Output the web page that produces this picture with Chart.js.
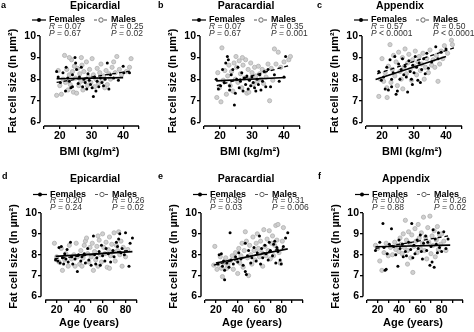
<!DOCTYPE html>
<html>
<head>
<meta charset="utf-8">
<script src="https://cdn.jsdelivr.net/npm/chart.js@4.4.1/dist/chart.umd.min.js"></script>
<style>
  html, body { margin: 0; padding: 0; background: #fff; overflow: hidden; }
  body { width: 474px; height: 332px; position: relative; }
  canvas { position: absolute; }
</style>
</head>
<body>
<canvas id="pa"></canvas>
<canvas id="pb"></canvas>
<canvas id="pc"></canvas>
<canvas id="pd"></canvas>
<canvas id="pe"></canvas>
<canvas id="pf"></canvas>
<script>
const FONT = '"Liberation Sans", Arial, sans-serif';

// ticks
const yTicks = [6, 7, 8, 9, 10];
const bmiTicks = [15, 20, 25, 30, 35, 40, 45];
const bmiLabels = [20, 30, 40];
const ageTicksShort = [10, 20, 30, 40, 50, 60, 70, 80, 90];
const ageTicks = [10, 20, 30, 40, 50, 60, 70, 80, 90, 100];
const ageLabels = [20, 40, 60, 80];

const depots = ['Epicardial', 'Paracardial', 'Appendix'];
const letters = ['a', 'b', 'c', 'd', 'e', 'f'];

// correlation stats per panel (a..f)
const femaleR = ['0.07', '0.07', '0.57', '0.20', '0.35', '0.03'];
const femaleP = ['= 0.67', '= 0.67', '< 0.0001', '= 0.24', '= 0.03', '= 0.88'];
const maleR = ['0.25', '0.35', '0.50', '0.26', '0.31', '0.26'];
const maleP = ['= 0.02', '= 0.001', '< 0.0001', '= 0.02', '= 0.006', '= 0.02'];

// [BMI or age, ln fat cell size]
const epiBmiFemales = [[19.0,8.35],[19.5,8.1],[20.2,7.85],[21.0,8.3],[21.8,7.45],[22.5,8.05],[23.0,7.9],[23.5,7.6],[24.0,8.2],[24.8,9.0],[25.0,8.75],[25.3,8.45],[25.8,7.8],[26.2,8.1],[26.8,8.55],[27.2,7.65],[27.6,8.0],[28.0,7.85],[28.5,7.55],[28.9,8.25],[29.3,7.95],[29.7,7.75],[30.2,7.6],[30.6,7.2],[31.0,8.1],[31.4,7.45],[31.8,7.9],[32.3,7.65],[32.8,8.05],[33.3,7.85],[33.8,7.7],[34.3,8.0],[35.0,8.75],[35.5,7.55],[36.0,8.2],[37.0,8.05],[38.5,7.95],[40.0,8.6],[40.2,8.3],[42.0,8.3],[24.0,7.65],[22.0,8.55]];
const epiBmiMales = [[19.0,7.25],[19.5,8.4],[20.0,7.7],[20.5,7.3],[21.0,8.0],[21.5,9.1],[21.8,7.85],[22.2,8.45],[22.6,7.5],[23.0,8.2],[23.3,7.75],[23.7,8.9],[24.0,8.35],[24.3,7.4],[24.6,8.6],[25.0,8.05],[25.3,7.35],[25.6,8.5],[26.0,7.7],[26.3,8.25],[26.6,7.9],[27.0,8.65],[27.3,7.5],[27.6,8.35],[28.0,7.95],[28.4,8.8],[28.7,7.7],[29.0,8.1],[29.4,8.45],[29.8,7.85],[30.2,8.95],[30.6,8.2],[31.0,7.65],[31.4,8.0],[31.8,8.5],[32.2,7.8],[32.6,8.3],[33.0,8.7],[33.4,7.95],[33.8,8.15],[34.2,7.6],[34.6,8.4],[35.0,7.75],[35.5,8.25],[36.0,8.0],[36.5,8.55],[37.0,8.8],[37.5,8.3],[38.0,9.05],[38.8,8.45],[39.5,8.2],[42.0,8.55],[42.5,8.95],[41.0,8.35],[26.8,9.0],[23.0,9.0]];
const paraBmiFemales = [[18.8,8.0],[19.5,7.55],[20.2,7.7],[20.8,8.45],[21.3,7.85],[21.8,8.75],[22.3,9.05],[22.6,8.9],[23.0,7.5],[23.5,8.2],[24.0,8.45],[24.5,6.8],[24.8,7.35],[25.2,8.0],[25.6,8.55],[26.0,7.6],[26.4,7.9],[26.8,8.3],[27.2,7.45],[27.6,8.05],[28.0,7.75],[28.4,8.15],[28.8,7.55],[29.2,7.95],[29.6,7.7],[30.0,8.1],[30.4,7.85],[30.8,7.6],[31.2,7.45],[31.6,8.0],[32.0,7.75],[32.4,8.2],[32.8,7.5],[33.3,7.9],[33.8,8.35],[34.3,7.65],[35.0,8.45],[35.8,7.65],[37.0,8.2],[38.5,7.9],[40.5,9.05],[40.0,8.1],[23.0,7.7]];
const paraBmiMales = [[19.0,7.15],[19.3,8.3],[19.8,7.6],[20.3,6.95],[20.6,9.45],[21.0,7.95],[21.5,8.4],[22.0,7.3],[22.4,8.15],[22.8,8.65],[23.2,7.7],[23.6,8.35],[24.0,7.45],[24.4,8.75],[24.8,8.0],[25.2,8.55],[25.6,7.85],[26.0,8.85],[26.4,8.25],[26.8,7.6],[27.2,8.65],[27.6,8.05],[28.0,8.9],[28.4,7.35],[28.8,8.45],[29.2,8.0],[29.6,8.75],[30.0,8.3],[30.4,7.75],[30.8,8.55],[31.2,8.15],[31.6,7.9],[32.0,8.6],[32.4,8.25],[32.8,8.0],[33.2,8.45],[33.6,7.8],[34.0,8.35],[34.4,8.1],[35.0,8.7],[35.5,7.0],[36.0,8.5],[36.5,7.95],[37.0,9.4],[37.5,8.7],[38.2,9.25],[39.0,8.55],[40.0,8.8],[41.5,8.9],[42.0,9.05],[27.0,9.0],[29.0,7.4],[25.0,9.05]];
const appBmiFemales = [[19.0,8.35],[19.8,7.95],[20.5,8.1],[21.0,7.55],[21.5,8.55],[22.0,7.5],[22.5,8.9],[23.0,7.65],[23.5,8.3],[24.0,9.05],[24.4,7.3],[24.8,7.45],[25.2,8.7],[25.6,8.0],[26.0,8.45],[26.4,8.95],[26.8,8.2],[27.2,8.6],[27.6,8.1],[28.0,7.4],[28.4,8.85],[28.8,8.35],[29.2,8.0],[29.6,8.65],[30.0,8.3],[30.4,9.05],[30.8,8.55],[31.2,7.95],[31.6,8.75],[32.0,7.85],[32.4,8.45],[33.0,8.95],[33.5,8.25],[34.0,9.2],[34.5,8.5],[35.5,8.8],[36.8,9.5],[37.5,8.95],[38.5,9.25],[40.0,9.4],[23.0,8.0],[29.5,7.75]];
const appBmiMales = [[19.0,7.2],[19.5,8.0],[20.0,8.95],[20.5,7.9],[21.0,8.3],[21.6,7.15],[22.0,8.6],[22.5,9.6],[22.8,7.85],[23.2,8.45],[23.6,9.1],[24.0,8.15],[24.4,8.8],[24.8,7.7],[25.2,9.25],[25.6,8.35],[26.0,8.0],[26.4,9.0],[26.8,8.55],[27.2,9.4],[27.6,8.25],[28.0,8.75],[28.4,9.15],[28.8,8.45],[29.2,7.95],[29.6,8.9],[30.0,8.6],[30.4,9.3],[30.8,8.2],[31.2,8.8],[31.6,9.05],[32.0,8.4],[32.4,8.7],[32.8,9.2],[33.2,8.0],[33.6,8.55],[34.0,8.95],[34.5,8.3],[35.0,9.35],[35.5,8.65],[36.0,8.9],[36.5,8.55],[37.0,9.1],[37.5,7.9],[38.0,8.7],[38.5,9.3],[39.0,8.95],[39.5,9.55],[40.5,9.2],[41.7,9.8],[42.0,9.6],[21.5,7.6],[26.5,7.55]];
const epiAgeFemales = [[19,7.75],[21,7.7],[22,8.35],[23,7.6],[24,8.4],[25,7.85],[26,7.55],[27,8.05],[28,7.8],[29,8.25],[30,7.65],[32,8.6],[33,7.9],[34,7.55],[36,7.8],[38,7.2],[39,8.0],[41,7.7],[42,7.9],[44,8.05],[45,7.6],[47,8.3],[48,7.75],[50,7.5],[52,8.9],[53,8.0],[54,7.55],[55,7.85],[57,8.15],[58,7.5],[59,8.45],[60,7.95],[62,7.7],[63,8.3],[65,8.05],[67,7.65],[69,8.2],[70,7.9],[72,8.6],[73,8.4],[74,8.75],[75,9.0],[76,8.1],[77,8.3],[79,8.0],[80,9.05],[83,7.45],[84,8.55],[86,8.8]];
const epiAgeMales = [[18,8.55],[20,7.9],[22,7.65],[24,8.3],[25,7.25],[27,7.75],[28,8.05],[30,7.45],[31,8.45],[33,7.8],[35,8.0],[36,7.45],[37,8.55],[38,7.9],[40,7.55],[41,8.2],[42,7.45],[43,7.85],[44,8.45],[45,8.65],[46,8.8],[47,8.05],[48,7.65],[49,8.35],[50,7.9],[51,8.55],[52,7.25],[53,8.15],[54,7.75],[55,8.4],[56,7.45],[57,8.7],[58,8.0],[59,7.65],[60,9.0],[61,8.35],[62,8.05],[63,8.6],[64,7.4],[65,8.25],[66,8.85],[67,7.95],[68,8.5],[69,8.15],[70,9.05],[71,7.7],[72,8.45],[73,8.2],[74,9.1],[75,8.0],[76,8.65],[77,7.45],[78,8.35],[80,7.9],[82,8.25],[66,7.35],[56,8.9]];
const paraAgeFemales = [[22,7.55],[23,8.0],[25,8.05],[26,7.45],[27,7.7],[28,6.8],[28,7.25],[30,7.6],[32,7.4],[33,9.05],[34,7.75],[36,7.55],[38,7.9],[40,7.65],[41,8.1],[43,7.8],[45,7.5],[47,7.2],[47,8.55],[48,7.05],[49,7.95],[50,8.2],[52,7.6],[53,7.85],[55,8.35],[57,7.7],[58,8.1],[60,8.9],[61,7.55],[62,8.3],[63,7.85],[65,8.45],[66,8.05],[68,7.75],[69,8.6],[70,8.2],[72,7.95],[73,8.5],[74,8.65],[75,7.6],[76,8.35],[77,8.15],[79,7.75],[80,7.55],[82,8.4],[84,8.8],[86,9.05]];
const paraAgeMales = [[18,7.5],[19,8.4],[21,7.3],[22,7.55],[24,7.9],[25,7.35],[26,6.95],[27,7.6],[29,7.85],[30,7.35],[31,7.5],[33,7.7],[35,7.95],[36,7.3],[38,8.1],[39,7.75],[40,7.1],[41,8.3],[42,7.6],[43,7.95],[44,8.55],[45,7.4],[46,8.2],[47,9.1],[48,8.65],[49,7.85],[50,7.0],[51,8.45],[52,8.0],[53,7.55],[54,8.85],[55,8.2],[56,7.75],[57,8.55],[58,9.0],[59,8.3],[60,7.9],[61,8.65],[62,8.1],[63,7.45],[64,9.2],[65,8.4],[66,7.95],[67,8.75],[68,8.2],[69,9.15],[70,7.8],[71,8.55],[72,8.9],[73,7.95],[74,8.45],[75,9.4],[76,8.7],[77,9.45],[78,8.1],[79,7.6],[81,8.65],[82,9.3]];
const appAgeFemales = [[18,8.2],[22,8.6],[25,9.5],[26,8.35],[27,7.25],[28,7.3],[29,8.05],[31,8.5],[33,9.25],[35,8.4],[37,8.0],[39,7.45],[40,8.7],[41,8.3],[43,8.5],[44,7.9],[46,8.15],[47,7.95],[49,8.6],[51,8.25],[52,9.5],[53,7.85],[54,8.45],[55,8.05],[57,8.7],[58,8.3],[60,8.95],[61,8.15],[62,7.8],[63,8.55],[65,8.9],[66,8.2],[67,8.6],[69,7.5],[70,8.4],[71,7.65],[72,9.2],[73,7.4],[74,8.75],[75,8.5],[76,8.1],[77,9.05],[78,8.35],[80,8.15],[82,9.1],[84,8.3],[86,8.75]];
const appAgeMales = [[18,8.45],[20,8.3],[22,7.7],[24,7.25],[26,8.1],[28,8.55],[30,7.95],[32,8.35],[34,8.0],[36,8.6],[37,8.25],[38,8.45],[40,8.15],[41,8.8],[42,8.5],[43,8.05],[44,9.0],[45,8.35],[46,9.65],[47,8.7],[48,8.2],[49,9.1],[50,8.55],[51,7.85],[52,8.95],[53,7.15],[54,8.4],[55,9.25],[56,8.65],[57,8.1],[58,9.45],[59,8.8],[60,8.3],[61,9.05],[62,8.55],[63,9.8],[64,8.2],[65,8.85],[66,7.8],[67,9.3],[68,8.6],[69,9.85],[70,8.05],[71,8.9],[72,8.45],[73,9.15],[74,7.9],[75,8.7],[76,9.35],[77,8.25],[78,8.95],[79,8.5],[80,9.0],[82,8.65],[84,8.2],[48,7.55]];

// regression line end points
const epiBmiFitF = [[19, 8.02], [40, 8.07]];
const epiBmiFitM = [[19, 7.85], [42.5, 8.38]];
const paraBmiFitF = [[18.8, 7.92], [40.5, 8.08]];
const paraBmiFitM = [[19, 7.7], [42, 8.65]];
const appBmiFitF = [[18, 7.98], [40, 9.05]];
const appBmiFitM = [[18.5, 8.25], [42.5, 9.45]];
const epiAgeFitF = [[19, 7.92], [86, 8.15]];
const epiAgeFitM = [[18, 7.8], [82, 8.2]];
const paraAgeFitF = [[20, 7.6], [86, 8.28]];
const paraAgeFitM = [[18, 7.5], [82, 8.32]];
const appAgeFitF = [[18, 8.38], [88, 8.46]];
const appAgeFitM = [[18, 8.3], [86, 8.9]];

const bmiAxis = { title: 'BMI (kg/m²)', min: 13.75, max: 45, ticks: bmiTicks, labels: bmiLabels };
const ageAxisShort = { title: 'Age (years)', min: 6.3, max: 90, ticks: ageTicksShort, labels: ageLabels };
const ageAxis = { title: 'Age (years)', min: 6.3, max: 100, ticks: ageTicks, labels: ageLabels };

const panels = [
  { id: 'pa', depot: 0, axis: bmiAxis, females: epiBmiFemales, males: epiBmiMales, fitF: epiBmiFitF, fitM: epiBmiFitM },
  { id: 'pb', depot: 1, axis: bmiAxis, females: paraBmiFemales, males: paraBmiMales, fitF: paraBmiFitF, fitM: paraBmiFitM },
  { id: 'pc', depot: 2, axis: bmiAxis, females: appBmiFemales, males: appBmiMales, fitF: appBmiFitF, fitM: appBmiFitM },
  { id: 'pd', depot: 0, axis: ageAxisShort, females: epiAgeFemales, males: epiAgeMales, fitF: epiAgeFitF, fitM: epiAgeFitM },
  { id: 'pe', depot: 1, axis: ageAxis, females: paraAgeFemales, males: paraAgeMales, fitF: paraAgeFitF, fitM: paraAgeFitM },
  { id: 'pf', depot: 2, axis: ageAxis, females: appAgeFemales, males: appAgeMales, fitF: appAgeFitF, fitM: appAgeFitM }
];

// plot frames on the page: y axis x, right end, y=10 and x axis y
const frames = [
  { left: 40, right: 139, top: 36, bottom: 126, row: 0, titleX: 95, letterX: 1 },
  { left: 200, right: 300, top: 36, bottom: 126, row: 0, titleX: 246, letterX: 158 },
  { left: 362, right: 462, top: 36, bottom: 126, row: 0, titleX: 400, letterX: 317 },
  { left: 41, right: 137, top: 213, bottom: 300, row: 1, titleX: 95, letterX: 2 },
  { left: 201, right: 303, top: 213, bottom: 300, row: 1, titleX: 246, letterX: 158 },
  { left: 363, right: 463, top: 213, bottom: 300, row: 1, titleX: 406, letterX: 318 }
];
const headerRows = [
  { letter: 6, title: 6, legend: 20, r: 27, p: 33.5, xTitlePad: 7 },
  { letter: 11, title: 13, legend: 28.5, r: 35, p: 41.5, xTitlePad: 2 }
];
const ROW_H = 166;
const Y_W = 40;
const PAD_L = 6;

const pts = a => a.map(([x, y]) => ({ x, y }));

function statLine(ctx, x, y, sym, rest) {
  ctx.font = `italic 8.5px ${FONT}`;
  ctx.fillText(sym, x, y);
  const w = ctx.measureText(sym).width;
  ctx.font = `8.5px ${FONT}`;
  ctx.fillText(' ' + rest, x + w, y);
}

function decor(i, frame, canvasLeft) {
  const p = panels[i];
  const h = headerRows[frame.row];
  return {
    id: 'decor' + i,
    afterDraw(chart) {
      const ctx = chart.ctx;
      const ca = chart.chartArea;
      const xs = chart.scales.x, ys = chart.scales.y;
      const ax = ca.left;
      ctx.save();
      // offset axes: y spans 6..10, x axis begins at its first tick
      ctx.strokeStyle = '#000';
      ctx.lineWidth = 1.4;
      ctx.beginPath();
      ctx.moveTo(ax, ys.getPixelForValue(yTicks[yTicks.length - 1]));
      ctx.lineTo(ax, ys.getPixelForValue(yTicks[0]));
      ctx.stroke();
      ctx.beginPath();
      ctx.moveTo(xs.getPixelForValue(p.axis.ticks[0]), ca.bottom);
      ctx.lineTo(xs.getPixelForValue(p.axis.ticks[p.axis.ticks.length - 1]), ca.bottom);
      ctx.stroke();

      ctx.fillStyle = '#000';
      ctx.textBaseline = 'middle';
      ctx.textAlign = 'left';
      ctx.font = `bold 9px ${FONT}`;
      ctx.fillText(letters[i], frame.letterX - canvasLeft, h.letter);
      ctx.textAlign = 'center';
      ctx.font = `bold 10.5px ${FONT}`;
      ctx.fillText(depots[p.depot], frame.titleX - canvasLeft, h.title);

      // legend: females
      ctx.lineWidth = 1.2;
      ctx.beginPath();
      ctx.moveTo(ax - 8, h.legend);
      ctx.lineTo(ax + 6, h.legend);
      ctx.stroke();
      ctx.beginPath();
      ctx.arc(ax - 1, h.legend, 2, 0, Math.PI * 2);
      ctx.fill();
      // legend: males
      ctx.setLineDash([3, 2]);
      ctx.beginPath();
      ctx.moveTo(ax + 54, h.legend);
      ctx.lineTo(ax + 68, h.legend);
      ctx.strokeStyle = '#555';
      ctx.stroke();
      ctx.setLineDash([]);
      ctx.beginPath();
      ctx.arc(ax + 61, h.legend, 2.2, 0, Math.PI * 2);
      ctx.fillStyle = '#fff';
      ctx.fill();
      ctx.lineWidth = 0.9;
      ctx.stroke();

      ctx.fillStyle = '#000';
      ctx.textAlign = 'left';
      ctx.font = `bold 9px ${FONT}`;
      ctx.fillText('Females', ax + 9, h.legend);
      ctx.fillText('Males', ax + 71, h.legend);
      ctx.fillStyle = '#333';
      statLine(ctx, ax + 9, h.r, 'R', '= ' + femaleR[i]);
      statLine(ctx, ax + 9, h.p, 'P', femaleP[i]);
      statLine(ctx, ax + 71, h.r, 'R', '= ' + maleR[i]);
      statLine(ctx, ax + 71, h.p, 'P', maleP[i]);
      ctx.restore();
    }
  };
}

panels.forEach((p, i) => {
  const f = frames[i];
  const rowTop = f.row * ROW_H;
  const canvasLeft = f.left - Y_W - PAD_L;
  const canvasRight = Math.min(474, f.right + 12);
  const canvas = document.getElementById(p.id);
  canvas.width = canvasRight - canvasLeft;
  canvas.height = ROW_H;
  canvas.style.left = canvasLeft + 'px';
  canvas.style.top = rowTop + 'px';
  const xH = rowTop + ROW_H - f.bottom;
  const tickFont = { family: FONT, weight: 'bold', size: 10.5 };
  const titleFont = { family: FONT, weight: 'bold', size: 11 };
  const xPad = headerRows[f.row].xTitlePad;

  new Chart(canvas.getContext('2d'), {
    type: 'scatter',
    data: {
      datasets: [
        { type: 'line', data: pts(p.fitF), borderColor: '#000', borderWidth: 1.6, pointRadius: 0, fill: false },
        { type: 'line', data: pts(p.fitM), borderColor: '#000', borderWidth: 1.3, borderDash: [4, 3], pointRadius: 0, fill: false },
        { label: 'Females', data: pts(p.females), pointStyle: 'circle', pointRadius: 1.5, backgroundColor: '#000', borderColor: '#000', borderWidth: 0 },
        { label: 'Males', data: pts(p.males), pointStyle: 'circle', pointRadius: 2.1, backgroundColor: '#d0d0d0', borderColor: '#b0b0b0', borderWidth: 0.8 }
      ]
    },
    options: {
      responsive: false,
      animation: false,
      devicePixelRatio: 1,
      layout: { padding: { left: PAD_L, top: f.top - rowTop, right: canvasRight - f.right, bottom: 0 } },
      plugins: { legend: { display: false }, tooltip: { enabled: false }, title: { display: false } },
      scales: {
        x: {
          type: 'linear',
          min: p.axis.min,
          max: p.axis.max,
          afterBuildTicks: s => { s.ticks = p.axis.ticks.map(v => ({ value: v })); },
          afterFit: s => { s.height = xH; },
          ticks: {
            autoSkip: false, maxRotation: 0, padding: 1, color: '#000', font: tickFont,
            callback: v => p.axis.labels.includes(v) ? String(v) : ''
          },
          grid: { drawOnChartArea: false, tickLength: 3, color: '#000', lineWidth: 1.3 },
          border: { display: false },
          title: { display: true, text: p.axis.title, color: '#000', font: titleFont, padding: { top: xPad, bottom: xPad } }
        },
        y: {
          type: 'linear',
          min: 5.83,
          max: 10,
          afterBuildTicks: s => { s.ticks = yTicks.map(v => ({ value: v })); },
          afterFit: s => { s.width = Y_W; },
          ticks: { padding: 1, color: '#000', font: tickFont },
          grid: { drawOnChartArea: false, tickLength: 3, color: '#000', lineWidth: 1.3 },
          border: { display: false },
          title: { display: true, text: 'Fat cell size (ln µm²)', color: '#000', font: titleFont, padding: { top: 6, bottom: 6 } }
        }
      }
    },
    plugins: [decor(i, f, canvasLeft)]
  });
});
</script>
</body>
</html>
